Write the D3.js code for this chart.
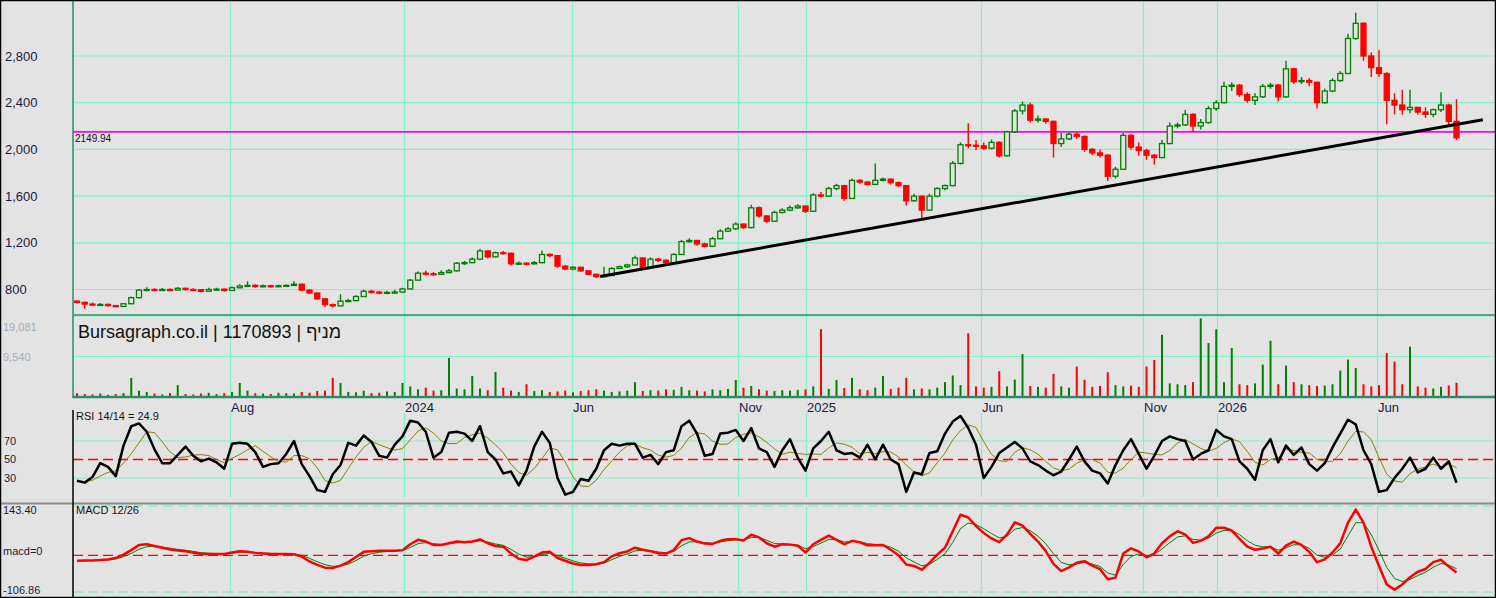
<!DOCTYPE html>
<html>
<head>
<meta charset="utf-8">
<script src="https://cdn.jsdelivr.net/npm/d3@7"></script>
<style>
html, body { margin: 0; padding: 0; background: #e3e3e3; overflow: hidden; }
svg { display: block; font-family: "Liberation Sans", Arial, sans-serif; }
</style>
</head>
<body>
<div id="chart"></div>
<script>
// Weekly bars, values
var firstOpen = 700;
var closes = [
  690,675,670,672,662,655,678,730,795,800,
  797,800,795,810,800,798,785,800,803,792,
  815,830,835,825,832,828,832,835,845,795,
  770,720,670,660,700,705,740,785,778,770,
  775,778,805,880,940,935,930,945,960,1025,
  1030,1060,1130,1080,1115,1110,1020,1025,1020,1030,
  1100,1090,1000,975,990,960,930,910,920,980,
  995,1010,1070,990,1060,1050,1030,1100,1210,1220,
  1190,1170,1235,1300,1320,1360,1330,1500,1430,1385,
  1460,1480,1500,1515,1470,1610,1600,1665,1690,1580,
  1735,1720,1700,1735,1745,1715,1690,1560,1600,1480,
  1600,1665,1690,1880,2040,2035,2030,2010,2060,1945,
  2150,2330,2380,2250,2260,2240,2050,2090,2130,2110,
  2000,1970,1950,1770,1830,2120,2020,1990,1950,1930,
  2050,2200,2210,2300,2200,2230,2350,2400,2540,2550,
  2470,2420,2450,2540,2550,2450,2690,2580,2590,2575,
  2400,2500,2590,2650,2950,3080,2800,2700,2650,2420,
  2380,2340,2360,2320,2300,2340,2380,2240,2100
];
var highs = [
  705,695,690,685,680,668,685,740,805,820,
  810,812,808,822,815,810,805,815,815,808,
  825,845,870,845,842,840,842,845,870,850,
  800,775,725,680,760,720,750,800,795,790,
  790,795,815,890,955,960,950,965,975,1035,
  1045,1075,1150,1135,1125,1130,1115,1040,1035,1045,
  1135,1110,1095,1010,1000,995,965,935,995,990,
  1005,1020,1090,1075,1075,1070,1060,1110,1225,1240,
  1225,1200,1250,1315,1335,1375,1365,1525,1510,1435,
  1475,1495,1520,1530,1520,1625,1635,1680,1705,1695,
  1750,1745,1730,1880,1760,1750,1725,1695,1620,1605,
  1620,1675,1700,1900,2060,2225,2080,2060,2085,2070,
  2160,2345,2410,2400,2290,2270,2245,2140,2150,2150,
  2120,2010,2000,1960,1850,2140,2130,2060,2005,1960,
  2080,2230,2230,2340,2310,2260,2370,2420,2580,2575,
  2560,2490,2480,2560,2570,2560,2760,2700,2620,2610,
  2580,2520,2610,2670,2990,3170,3090,2830,2850,2660,
  2480,2510,2510,2360,2360,2350,2490,2390,2430
];
var lows = [
  680,635,662,660,655,648,650,675,725,785,
  785,788,785,790,790,785,775,780,790,780,
  788,810,820,815,818,815,820,825,830,785,
  760,710,650,645,655,690,700,735,765,760,
  762,765,770,800,875,920,918,925,940,955,
  1010,1025,1055,1065,1075,1100,1005,1010,1008,1015,
  1025,1075,985,965,965,950,920,898,905,915,
  975,985,1005,980,985,1035,1015,1025,1095,1200,
  1175,1160,1165,1230,1295,1310,1320,1325,1415,1370,
  1380,1450,1470,1490,1455,1465,1590,1595,1650,1560,
  1575,1705,1690,1695,1725,1700,1675,1520,1550,1410,
  1475,1590,1650,1685,1870,2010,1995,1995,2000,1930,
  1940,2140,2300,2230,2230,2220,1930,2020,2080,2090,
  1980,1950,1930,1730,1750,1825,2000,1945,1910,1870,
  1925,2045,2180,2200,2150,2170,2220,2330,2395,2500,
  2450,2400,2380,2440,2520,2410,2440,2560,2560,2540,
  2350,2390,2490,2580,2645,2940,2760,2620,2620,2215,
  2300,2300,2310,2300,2270,2275,2320,2210,2080
];
var volumes = [
  900,700,600,800,500,700,900,4480,1500,1200,
  800,600,900,2800,700,600,800,1000,700,900,
  1200,3300,1500,900,800,700,1000,900,800,1200,
  1000,1400,1500,4480,3300,1200,1100,1500,900,1000,
  1300,1200,3300,2500,1800,2200,1500,1600,9190,2000,
  1800,4950,2000,1600,5900,2200,1500,1200,3000,1400,
  1600,1200,1300,1500,1100,1400,1600,1800,1500,1200,
  1300,1500,3500,1400,1600,1500,1800,1700,2400,1600,
  1500,1300,1800,1600,1900,4000,2200,2600,1800,1500,
  1400,1600,1500,1700,1800,2500,16000,1900,4000,2100,
  4500,1800,1600,2200,4950,1900,2200,4500,1800,2000,
  1800,2200,3500,5060,2800,15000,2500,2200,2400,6080,
  2500,4100,10100,2600,2400,2200,5450,2500,2200,7170,
  4050,2400,2600,5840,2800,2500,2700,2400,7170,8720,
  14650,3200,3000,2800,3500,18540,12700,15970,3500,11530,
  3000,2800,3200,7630,13240,3000,7400,3500,3000,2800,
  2600,2700,3000,6230,8800,6850,3000,2500,2800,10360,
  8340,3000,11840,2500,2200,2000,2400,2700,3350
];
var rsiValues = [
  27,25,31,46,42,32,65,86,89,80,
  61,46,46,55,64,54,48,51,47,40,
  67,68,67,58,42,45,46,56,70,45,
  32,17,15,34,44,68,65,76,69,54,
  52,66,75,92,90,80,52,58,79,80,
  78,70,86,58,50,35,37,22,38,64,
  80,68,30,12,15,29,27,40,60,67,
  65,67,67,52,55,45,58,60,86,92,
  78,54,56,78,79,82,70,84,62,58,
  42,60,72,52,38,62,70,80,60,56,
  57,52,66,50,66,50,45,15,36,34,
  57,59,78,91,97,84,66,30,42,57,
  63,69,62,48,44,38,33,37,50,64,
  48,38,35,24,44,60,72,56,40,54,
  70,75,72,70,50,56,60,82,75,72,
  48,40,28,60,72,47,65,55,63,45,
  38,46,63,78,93,88,60,45,15,17,
  30,40,52,36,40,52,40,48,24.9
];
var macdValues = [
  -16,-15,-15,-14,-12,-8,2,15,30,32,
  27,22,17,14,12,8,4,4,4,4,
  8,12,10,7,5,4,4,4,3,-4,
  -18,-28,-36,-37,-30,-20,-5,10,12,13,
  13,13,15,32,45,40,30,30,35,40,
  38,40,46,35,27,25,5,-10,-14,-4,
  8,10,-8,-16,-24,-28,-28,-26,-20,-3,
  6,11,22,16,12,6,5,15,44,50,
  40,34,33,42,47,47,43,60,52,35,
  25,32,31,28,8,32,45,57,45,32,
  42,38,29,29,30,16,0,-27,-31,-42,
  -22,2,22,70,118,110,85,65,49,38,
  60,96,86,62,40,12,-25,-46,-35,-22,
  -17,-30,-40,-70,-65,5,20,11,-6,5,
  35,55,70,60,36,42,55,80,80,72,
  48,25,16,20,25,5,28,40,30,10,
  -20,-12,8,35,95,133,95,25,-31,-85,
  -100,-85,-64,-48,-40,-20,-13,-33,-50
];

// Axis ticks and labels
var priceTicks = [800, 1200, 1600, 2000, 2400, 2800];
var monthLabels = ["Aug", "2024", "Jun", "Nov", "2025", "Jun", "Nov", "2026", "Jun"];
var monthBars = [19.74, 42.19, 63.87, 85.29, 94.1, 116.65, 137.55, 147.1, 167.74];
var volumeTicks = [19081, 9540];
var volumeTickLabels = ["19,081", "9,540"];
var rsiTicks = [30, 50, 70];
var macdRange = [-106.86, 143.40];
var markLevel = 2149.94;
var trendBars = [67.5, 181.4];
var trendValues = [911, 2254];
var title = "Bursagraph.co.il | 1170893 | מניף";
var rsiTitle = "RSI 14/14 = 24.9";
var macdTitle = "MACD 12/26";

// Dimensions
var width = 1496;
var height = 598;
var left = 73;
var gridColor = "#82f2c8";
var upColor = "#008000";
var downColor = "#ff0000";

var svg = d3.select("#chart").append("svg")
  .attr("width", width)
  .attr("height", height);

svg.append("rect")
  .attr("width", width)
  .attr("height", height)
  .attr("fill", "#e3e3e3");

// Build bar objects
var bars = closes.map(function(c, i) {
  var o = i === 0 ? firstOpen : closes[i - 1];
  return {
    i: i, open: o, close: c,
    high: Math.max(highs[i], o, c),
    low: Math.min(lows[i], o, c),
    vol: volumes[i],
    up: c >= o
  };
});

// Scales
var x = d3.scaleLinear().domain([0, closes.length - 1]).range([77, 1456.5]);
var yPrice = d3.scaleLinear().domain([800, 2800]).range([289.5, 56]);
var yVol = d3.scaleLinear().domain([0, 19081]).range([397, 316]);
var yRsi = d3.scaleLinear().domain([30, 70]).range([478, 441]);
var yMacd = d3.scaleLinear().domain(macdRange).range([592, 506]);

// Panel extents
var panels = {
  price: [0, 315],
  vol: [315, 397],
  rsi: [413, 497],
  macd: [506, 594]
};

// Clip paths
var defs = svg.append("defs");
Object.keys(panels).forEach(function(k) {
  defs.append("clipPath").attr("id", "clip-" + k)
    .append("rect")
    .attr("x", left + 1)
    .attr("y", panels[k][0])
    .attr("width", width - left - 1)
    .attr("height", panels[k][1] - panels[k][0]);
});

// Vertical grid lines per panel
Object.keys(panels).forEach(function(k) {
  svg.append("g").selectAll("line")
    .data(monthBars)
    .enter().append("line")
    .attr("x1", function(d) { return Math.round(x(d)) + 0.5; })
    .attr("x2", function(d) { return Math.round(x(d)) + 0.5; })
    .attr("y1", panels[k][0])
    .attr("y2", panels[k][1])
    .attr("stroke", gridColor)
    .attr("stroke-width", 1.2);
});

// Price grid lines
svg.append("g").selectAll("line")
  .data(priceTicks)
  .enter().append("line")
  .attr("x1", left).attr("x2", width)
  .attr("y1", function(d) { return yPrice(d); })
  .attr("y2", function(d) { return yPrice(d); })
  .attr("stroke", gridColor)
  .attr("stroke-width", 1.2);

// Volume grid lines
svg.append("g").selectAll("line")
  .data(volumeTicks)
  .enter().append("line")
  .attr("x1", left).attr("x2", width)
  .attr("y1", function(d) { return yVol(d); })
  .attr("y2", function(d) { return yVol(d); })
  .attr("stroke", gridColor)
  .attr("stroke-width", 1.2);

// RSI grid lines (70 / 30 solid, 50 red dashed)
svg.append("g").selectAll("line")
  .data(rsiTicks)
  .enter().append("line")
  .attr("x1", left).attr("x2", width)
  .attr("y1", function(d) { return yRsi(d); })
  .attr("y2", function(d) { return yRsi(d); })
  .attr("stroke", function(d) { return d === 50 ? "#ff0000" : gridColor; })
  .attr("stroke-width", function(d) { return d === 50 ? 1.3 : 1.2; })
  .attr("stroke-dasharray", function(d) { return d === 50 ? "10,5" : null; });

// MACD lines: range limits dashed aquamarine, zero dashed red
svg.append("g").selectAll("line")
  .data(macdRange.concat([0]))
  .enter().append("line")
  .attr("x1", left).attr("x2", width)
  .attr("y1", function(d) { return yMacd(d); })
  .attr("y2", function(d) { return yMacd(d); })
  .attr("stroke", function(d) { return d === 0 ? "#ff0000" : gridColor; })
  .attr("stroke-width", 1.3)
  .attr("stroke-dasharray", "10,5");

// Horizontal level line
svg.append("line")
  .attr("x1", left).attr("x2", width)
  .attr("y1", yPrice(markLevel)).attr("y2", yPrice(markLevel))
  .attr("stroke", "#ff00ff")
  .attr("stroke-width", 1.6);

svg.append("text")
  .attr("x", left + 2)
  .attr("y", yPrice(markLevel) + 10)
  .attr("font-size", 10)
  .attr("fill", "#111")
  .text(markLevel.toFixed(2));

// Candles
var candles = svg.append("g").attr("clip-path", "url(#clip-price)");
var bodyW = 5;

candles.selectAll(".wick")
  .data(bars)
  .enter().append("line")
  .attr("class", "wick")
  .attr("x1", function(d) { return x(d.i); })
  .attr("x2", function(d) { return x(d.i); })
  .attr("y1", function(d) { return yPrice(d.high); })
  .attr("y2", function(d) { return yPrice(d.low); })
  .attr("stroke", function(d) { return d.up ? upColor : downColor; })
  .attr("stroke-width", 1.4);

candles.selectAll(".body")
  .data(bars)
  .enter().append("rect")
  .attr("class", "body")
  .attr("x", function(d) { return x(d.i) - bodyW / 2; })
  .attr("y", function(d) { return yPrice(Math.max(d.open, d.close)); })
  .attr("width", bodyW)
  .attr("height", function(d) {
    return Math.max(1, yPrice(Math.min(d.open, d.close)) - yPrice(Math.max(d.open, d.close)));
  })
  .attr("fill", function(d) { return d.up ? "#e3e3e3" : downColor; })
  .attr("stroke", function(d) { return d.up ? upColor : downColor; })
  .attr("stroke-width", 1.3);

// Trend line
svg.append("line")
  .attr("clip-path", "url(#clip-price)")
  .attr("x1", x(trendBars[0])).attr("y1", yPrice(trendValues[0]))
  .attr("x2", x(trendBars[1])).attr("y2", yPrice(trendValues[1]))
  .attr("stroke", "#000")
  .attr("stroke-width", 3);

// Volume bars
svg.append("g").attr("clip-path", "url(#clip-vol)")
  .selectAll("rect")
  .data(bars)
  .enter().append("rect")
  .attr("x", function(d) { return x(d.i) - 1; })
  .attr("y", function(d) { return yVol(d.vol); })
  .attr("width", 2)
  .attr("height", function(d) { return yVol(0) - yVol(d.vol); })
  .attr("fill", function(d) { return d.up ? upColor : downColor; });

// RSI average (olive) and RSI line
var rsiAvg = rsiValues.map(function(v, i) {
  return d3.mean(rsiValues.slice(Math.max(0, i - 3), i + 1));
});

var rsiG = svg.append("g").attr("clip-path", "url(#clip-rsi)");
rsiG.append("path")
  .datum(rsiAvg)
  .attr("fill", "none")
  .attr("stroke", "#8a8200")
  .attr("stroke-width", 1)
  .attr("d", d3.line()
    .x(function(d, i) { return x(i); })
    .y(function(d) { return yRsi(d); }));

rsiG.append("path")
  .datum(rsiValues)
  .attr("fill", "none")
  .attr("stroke", "#000")
  .attr("stroke-width", 2.5)
  .attr("stroke-linejoin", "round")
  .attr("d", d3.line()
    .x(function(d, i) { return x(i); })
    .y(function(d) { return yRsi(d); }));

// MACD signal (exponential average) and MACD line
var macdSignal = [];
macdValues.forEach(function(v, i) {
  macdSignal.push(i === 0 ? v : macdSignal[i - 1] + 0.5 * (v - macdSignal[i - 1]));
});

var macdG = svg.append("g").attr("clip-path", "url(#clip-macd)");
macdG.append("path")
  .datum(macdSignal)
  .attr("fill", "none")
  .attr("stroke", "#008000")
  .attr("stroke-width", 1)
  .attr("d", d3.line()
    .x(function(d, i) { return x(i); })
    .y(function(d) { return yMacd(d); }));

macdG.append("path")
  .datum(macdValues)
  .attr("fill", "none")
  .attr("stroke", "#ff0000")
  .attr("stroke-width", 2.5)
  .attr("stroke-linejoin", "round")
  .attr("d", d3.line()
    .x(function(d, i) { return x(i); })
    .y(function(d) { return yMacd(d); }));

// Panel borders
svg.append("line") // price bottom
  .attr("x1", left).attr("x2", width).attr("y1", 315).attr("y2", 315)
  .attr("stroke", "#2e8b6a").attr("stroke-width", 1.5);
svg.append("line") // volume bottom
  .attr("x1", left).attr("x2", width).attr("y1", 397).attr("y2", 397)
  .attr("stroke", "#2e8b6a").attr("stroke-width", 2.5);
svg.append("line") // rsi / macd separator
  .attr("x1", 0).attr("x2", width).attr("y1", 503.5).attr("y2", 503.5)
  .attr("stroke", "#8c8c8c").attr("stroke-width", 2);
svg.append("line") // left axis upper
  .attr("x1", left).attr("x2", left).attr("y1", 0).attr("y2", 398)
  .attr("stroke", "#2e8b6a").attr("stroke-width", 1.5);
svg.append("line") // left axis lower
  .attr("x1", left).attr("x2", left).attr("y1", 410).attr("y2", height)
  .attr("stroke", "#000").attr("stroke-width", 1.5);

// Price axis labels
svg.append("g").selectAll("text")
  .data(priceTicks)
  .enter().append("text")
  .attr("x", 5)
  .attr("y", function(d) { return yPrice(d); })
  .attr("dy", "0.35em")
  .attr("font-size", 13)
  .attr("fill", "#1a1a40")
  .text(function(d) { return d3.format(",")(d); });

// Volume axis labels
svg.append("g").selectAll("text")
  .data(volumeTickLabels)
  .enter().append("text")
  .attr("x", 3)
  .attr("y", function(d, i) { return i === 0 ? 331 : yVol(volumeTicks[i]) + 4; })
  .attr("font-size", 11)
  .attr("fill", "#a4acbc")
  .text(function(d) { return d; });

// Month labels
svg.append("g").selectAll("text")
  .data(monthBars)
  .enter().append("text")
  .attr("x", function(d) { return Math.round(x(d)) + 1; })
  .attr("y", 412)
  .attr("font-size", 13)
  .attr("fill", "#1a1a40")
  .text(function(d, i) { return monthLabels[i]; });

// RSI labels
svg.append("g").selectAll("text")
  .data(rsiTicks)
  .enter().append("text")
  .attr("x", 4)
  .attr("y", function(d) { return yRsi(d); })
  .attr("dy", "0.35em")
  .attr("font-size", 11)
  .attr("fill", "#1a1a40")
  .text(function(d) { return d; });

// MACD labels
svg.append("text").attr("x", 3).attr("y", 514).attr("font-size", 11).attr("fill", "#1a1a40").text(macdRange[1].toFixed(2));
svg.append("text").attr("x", 3).attr("y", yMacd(0)).attr("font-size", 11).attr("fill", "#1a1a40").text("macd=0");
svg.append("text").attr("x", 3).attr("y", 594).attr("font-size", 11).attr("fill", "#1a1a40").text(macdRange[0].toFixed(2));

// Panel titles
svg.append("text").attr("x", 76).attr("y", 420).attr("font-size", 11).attr("fill", "#111").text(rsiTitle);
svg.append("text").attr("x", 76).attr("y", 514).attr("font-size", 11).attr("fill", "#111").text(macdTitle);

svg.append("text")
  .attr("x", 78)
  .attr("y", 338)
  .attr("font-size", 18)
  .attr("fill", "#111")
  .text(title);

// Outer frame
svg.append("rect")
  .attr("x", 0.5).attr("y", 0.5)
  .attr("width", width - 1).attr("height", height - 1)
  .attr("fill", "none")
  .attr("stroke", "#000")
  .attr("stroke-width", 1.5);
</script>
</body>
</html>
